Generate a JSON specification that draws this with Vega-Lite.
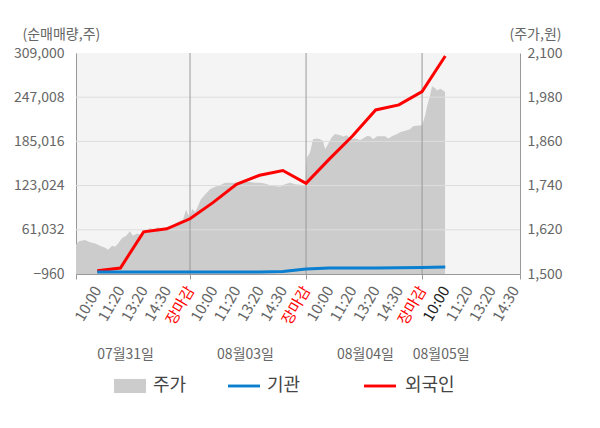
{
  "$schema": "https://vega.github.io/schema/vega-lite/v6.json",
  "width": 444,
  "height": 221,
  "autosize": "none",
  "padding": {"left": 76, "top": 53, "right": 80, "bottom": 154},
  "background": "#ffffff",
  "config": {
    "view": {"fill": "#f4f4f4", "stroke": null},
    "font": "Noto Sans CJK KR",
    "axis": {"labelFont": "Noto Sans CJK KR", "titleFont": "Noto Sans CJK KR"},
    "legend": {"labelFont": "Noto Sans CJK KR"}
  },
  "datasets": {
    "price": [
      {"t": -0.914, "price": 1580}, {"t": -0.78, "price": 1589}, {"t": -0.53, "price": 1592}, {"t": -0.31, "price": 1586},
      {"t": -0.09, "price": 1583}, {"t": 0.12, "price": 1577}, {"t": 0.34, "price": 1571}, {"t": 0.47, "price": 1566},
      {"t": 0.64, "price": 1577}, {"t": 0.77, "price": 1574}, {"t": 0.90, "price": 1583}, {"t": 1.07, "price": 1598},
      {"t": 1.24, "price": 1603}, {"t": 1.41, "price": 1616}, {"t": 1.54, "price": 1604}, {"t": 1.72, "price": 1610},
      {"t": 1.84, "price": 1607}, {"t": 2.06, "price": 1613}, {"t": 2.28, "price": 1625}, {"t": 2.41, "price": 1621},
      {"t": 2.62, "price": 1627}, {"t": 2.84, "price": 1621}, {"t": 3.05, "price": 1628}, {"t": 3.27, "price": 1634},
      {"t": 3.48, "price": 1641}, {"t": 3.70, "price": 1648}, {"t": 3.83, "price": 1675}, {"t": 3.91, "price": 1662},
      {"t": 4.00, "price": 1654}, {"t": 4.09, "price": 1677}, {"t": 4.22, "price": 1668}, {"t": 4.34, "price": 1684},
      {"t": 4.47, "price": 1703}, {"t": 4.65, "price": 1716}, {"t": 4.86, "price": 1730}, {"t": 5.08, "price": 1737},
      {"t": 5.29, "price": 1741}, {"t": 5.51, "price": 1748}, {"t": 5.81, "price": 1748}, {"t": 6.16, "price": 1748},
      {"t": 6.37, "price": 1750}, {"t": 6.59, "price": 1750}, {"t": 6.80, "price": 1748}, {"t": 7.02, "price": 1748},
      {"t": 7.22, "price": 1746}, {"t": 7.45, "price": 1741}, {"t": 7.66, "price": 1739}, {"t": 7.88, "price": 1737},
      {"t": 8.09, "price": 1744}, {"t": 8.31, "price": 1748}, {"t": 8.53, "price": 1744}, {"t": 8.74, "price": 1742},
      {"t": 8.96, "price": 1741}, {"t": 9.04, "price": 1816}, {"t": 9.17, "price": 1830}, {"t": 9.30, "price": 1866},
      {"t": 9.47, "price": 1868}, {"t": 9.60, "price": 1866}, {"t": 9.73, "price": 1862}, {"t": 9.82, "price": 1839},
      {"t": 9.95, "price": 1853}, {"t": 10.11, "price": 1871}, {"t": 10.25, "price": 1880}, {"t": 10.47, "price": 1877},
      {"t": 10.60, "price": 1873}, {"t": 10.77, "price": 1877}, {"t": 10.90, "price": 1866}, {"t": 11.11, "price": 1868},
      {"t": 11.33, "price": 1864}, {"t": 11.46, "price": 1868}, {"t": 11.63, "price": 1875}, {"t": 11.76, "price": 1874},
      {"t": 11.89, "price": 1866}, {"t": 12.06, "price": 1874}, {"t": 12.19, "price": 1874}, {"t": 12.41, "price": 1874},
      {"t": 12.54, "price": 1868}, {"t": 12.72, "price": 1875}, {"t": 12.93, "price": 1880}, {"t": 13.05, "price": 1885},
      {"t": 13.27, "price": 1889}, {"t": 13.48, "price": 1893}, {"t": 13.61, "price": 1901}, {"t": 13.83, "price": 1903},
      {"t": 14.00, "price": 1903}, {"t": 14.13, "price": 1930}, {"t": 14.22, "price": 1957}, {"t": 14.34, "price": 1984},
      {"t": 14.43, "price": 2010}, {"t": 14.56, "price": 2004}, {"t": 14.66, "price": 1998}, {"t": 14.78, "price": 2003},
      {"t": 14.91, "price": 1998}, {"t": 14.99, "price": 1994}
    ],
    "flows": [
      {"t": 0, "series": "외국인", "value": 3700}, {"t": 1, "series": "외국인", "value": 7500},
      {"t": 2, "series": "외국인", "value": 58200}, {"t": 3, "series": "외국인", "value": 62400},
      {"t": 4, "series": "외국인", "value": 76500}, {"t": 5, "series": "외국인", "value": 99500},
      {"t": 6, "series": "외국인", "value": 124900}, {"t": 7, "series": "외국인", "value": 137500},
      {"t": 8, "series": "외국인", "value": 144200}, {"t": 9, "series": "외국인", "value": 126300},
      {"t": 10, "series": "외국인", "value": 160100}, {"t": 11, "series": "외국인", "value": 192500},
      {"t": 12, "series": "외국인", "value": 229100}, {"t": 13, "series": "외국인", "value": 236200},
      {"t": 14, "series": "외국인", "value": 254900}, {"t": 15, "series": "외국인", "value": 304800},
      {"t": 0, "series": "기관", "value": 1800}, {"t": 1, "series": "기관", "value": 1800},
      {"t": 2, "series": "기관", "value": 1800}, {"t": 3, "series": "기관", "value": 1800},
      {"t": 4, "series": "기관", "value": 1800}, {"t": 5, "series": "기관", "value": 1800},
      {"t": 6, "series": "기관", "value": 1800}, {"t": 7, "series": "기관", "value": 1800},
      {"t": 8, "series": "기관", "value": 2500}, {"t": 9, "series": "기관", "value": 6000},
      {"t": 10, "series": "기관", "value": 7500}, {"t": 11, "series": "기관", "value": 7500},
      {"t": 12, "series": "기관", "value": 7500}, {"t": 13, "series": "기관", "value": 7700},
      {"t": 14, "series": "기관", "value": 8200}, {"t": 15, "series": "기관", "value": 9000}
    ],
    "grid": [{"v": 61032}, {"v": 123024}, {"v": 185016}, {"v": 247008}],
    "days": [{"t": 4}, {"t": 9}, {"t": 14}]
  },
  "layer": [
    {
      "data": {"name": "price"},
      "mark": {"type": "area", "interpolate": "linear", "opacity": 1},
      "encoding": {
        "x": {
          "field": "t", "type": "quantitative",
          "scale": {"domain": [-0.914, 18.22], "nice": false, "zero": false},
          "axis": {
            "values": [-0.914,0,1,2,3,4,5,6,7,8,9,10,11,12,13,14,15,16,17,18,18.22],
            "labelExpr": "datum.value < 0 || datum.value > 18.1 ? '' : ['10:00','11:20','13:20','14:30','장마감'][datum.value % 5]",
            "labelAngle": -60,
            "labelFontSize": 15,
            "labelColor": {"condition": [{"test": "datum.value==4||datum.value==9||datum.value==14", "value": "#ff0000"}, {"test": "datum.value==15", "value": "#222222"}], "value": "#666666"},
            "labelOverlap": false,
            "labelBound": false,
            "labelFlush": false,
            "labelPadding": 8,
            "ticks": true,
            "tickSize": 5,
            "tickColor": {"condition": {"test": "datum.value < 0 || datum.value > 18.1 || datum.value % 5 == 4", "value": "#999999"}, "value": "transparent"},
            "grid": false,
            "domainColor": "#999999",
            "title": null
          }
        },
        "y": {
          "field": "price", "type": "quantitative",
          "scale": {"domain": [1500, 2100], "nice": false, "zero": false},
          "axis": {
            "orient": "right",
            "values": [1500, 1620, 1740, 1860, 1980, 2100],
            "format": ",.0f",
            "labelFontSize": 14,
            "labelColor": "#666666",
            "labelPadding": 7,
            "ticks": false,
            "grid": false,
            "domainColor": "#999999",
            "title": "(주가,원)",
            "titleAngle": 0,
            "titleAlign": "left",
            "titleBaseline": "middle",
            "titleX": -11,
            "titleY": -19,
            "titleFontSize": 14,
            "titleFontWeight": "normal",
            "titleColor": "#666666"
          }
        },
        "y2": {"datum": 1500},
        "color": {
          "datum": "주가", "type": "nominal",
          "scale": {"domain": ["주가", "기관", "외국인"], "range": ["#cccccc", "#0a7fd0", "#ff0000"]},
          "legend": {
            "orient": "none",
            "legendX": 38,
            "legendY": 317,
            "direction": "horizontal",
            "title": null,
            "padding": 0,
            "symbolSize": 1024,
            "symbolType": "M-1,-0.09H1V0.09H-1Z",
            "labelFontSize": 18,
            "labelColor": "#444444",
            "labelOffset": 7,
            "columnPadding": 41,
            "encode": {
              "symbols": {
                "update": {
                  "shape": {"signal": "datum.value === '주가' ? 'M-1,-0.44H1V0.44H-1Z' : 'M-1,-0.09H1V0.09H-1Z'"},
                  "x": {"signal": "datum.value === '외국인' ? 38 : 16"},
                  "fill": {"scale": "color", "field": "value"},
                  "stroke": {"value": "transparent"},
                  "strokeWidth": {"value": 0},
                  "opacity": {"value": 1},
                  "fillOpacity": {"value": 1}
                }
              },
              "labels": {
                "update": {
                  "x": {"signal": "datum.value === '외국인' ? 63 : 39"}
                }
              }
            }
          }
        }
      }
    },
    {
      "data": {"name": "grid"},
      "mark": {"type": "rule", "color": "#dddddd", "strokeWidth": 1},
      "encoding": {
        "y": {"field": "v", "type": "quantitative", "scale": {"domain": [-960, 309000], "nice": false, "zero": false}, "axis": null}
      }
    },
    {
      "data": {"name": "days"},
      "mark": {"type": "rule", "color": "#999999", "strokeWidth": 1},
      "encoding": {
        "x": {
          "field": "t", "type": "quantitative",
          "scale": {"domain": [-0.914, 18.22], "nice": false, "zero": false},
          "axis": {
            "orient": "bottom",
            "values": [1.2, 6.37, 11.54, 14.8],
            "labelExpr": "datum.value < 3 ? '07월31일' : datum.value < 8 ? '08월03일' : datum.value < 13 ? '08월04일' : '08월05일'",
            "labelAngle": 0,
            "labelAlign": "center",
            "labelBaseline": "top",
            "labelFontSize": 14,
            "labelColor": "#666666",
            "labelPadding": 0,
            "labelBound": false,
            "labelFlush": false,
            "labelOverlap": false,
            "offset": 73,
            "ticks": false,
            "domain": false,
            "grid": false,
            "title": null
          }
        }
      }
    },
    {
      "data": {"name": "flows"},
      "mark": {"type": "line", "strokeWidth": 3, "interpolate": "linear"},
      "encoding": {
        "x": {"field": "t", "type": "quantitative", "scale": {"domain": [-0.914, 18.22], "nice": false, "zero": false}, "axis": null},
        "y": {
          "field": "value", "type": "quantitative",
          "scale": {"domain": [-960, 309000], "nice": false, "zero": false},
          "axis": {
            "orient": "left",
            "values": [-960, 61032, 123024, 185016, 247008, 309000],
            "format": ",.0f",
            "labelFontSize": 14,
            "labelColor": "#666666",
            "labelPadding": 12,
            "ticks": false,
            "grid": false,
            "domainColor": "#999999",
            "title": "(순매매량,주)",
            "titleAngle": 0,
            "titleAlign": "left",
            "titleBaseline": "middle",
            "titleX": -54,
            "titleY": -19,
            "titleFontSize": 14,
            "titleFontWeight": "normal",
            "titleColor": "#666666"
          }
        },
        "color": {
          "field": "series", "type": "nominal",
          "legend": {
            "orient": "none",
            "legendX": 38,
            "legendY": 317,
            "direction": "horizontal",
            "title": null,
            "padding": 0,
            "symbolSize": 1024,
            "symbolType": "M-1,-0.09H1V0.09H-1Z",
            "labelFontSize": 18,
            "labelColor": "#444444",
            "labelOffset": 7,
            "columnPadding": 41,
            "encode": {
              "symbols": {
                "update": {
                  "shape": {"signal": "datum.value === '주가' ? 'M-1,-0.44H1V0.44H-1Z' : 'M-1,-0.09H1V0.09H-1Z'"},
                  "x": {"signal": "datum.value === '외국인' ? 38 : 16"},
                  "fill": {"scale": "color", "field": "value"},
                  "stroke": {"value": "transparent"},
                  "strokeWidth": {"value": 0},
                  "opacity": {"value": 1},
                  "fillOpacity": {"value": 1}
                }
              },
              "labels": {
                "update": {
                  "x": {"signal": "datum.value === '외국인' ? 63 : 39"}
                }
              }
            }
          }
        }
      }
    }
  ],
  "resolve": {"scale": {"x": "independent", "y": "independent"}}
}
